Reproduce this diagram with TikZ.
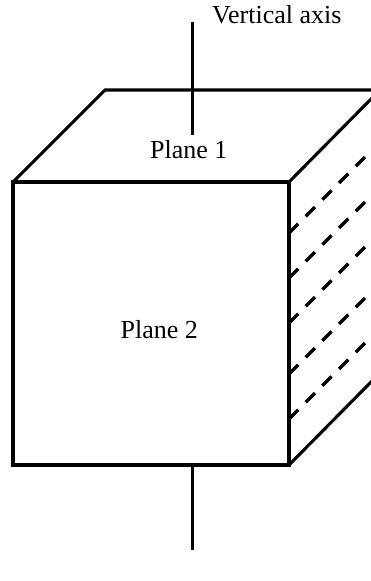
\documentclass[tikz,border=0pt]{standalone}
\usepackage{fontspec}
\setmainfont{Liberation Serif}
\tikzset{
  edge line/.style={line width=3.1pt,line cap=round,line join=miter},
  axis line/.style={line width=2.7pt},
  hidden line/.style={line width=3.2pt,dash pattern=on 13pt off 10.6pt},
  label text/.style={inner sep=0pt,anchor=base west,font=\fontsize{26}{30}\selectfont}
}
\begin{document}
\begin{tikzpicture}[x=1pt,y=-1pt]
\useasboundingbox (0,0) rectangle (371,581);
\coordinate (fa) at (13,182);
\coordinate (fb) at (289,182);
\coordinate (fc) at (289,465);
\coordinate (fd) at (13,465);
\coordinate (ta) at (105,90);
\coordinate (tb) at (371,90);
\coordinate (rt) at (372,98);
\coordinate (rb) at (372,381);
\coordinate (axa) at (192.5,22);
\coordinate (axb) at (192.5,135);
\coordinate (axc) at (192.5,465);
\coordinate (axd) at (192.5,550);
\foreach \ya/\yb in {233/149,278/194,323/239,374/290,419/335}{
  \coordinate (da) at (289,\ya);
  \coordinate (db) at (373,\yb);
  \draw[hidden line] (da) -- (db);
}
\draw[axis line] (axa) -- (axb);
\draw[axis line] (axc) -- (axd);
\draw[edge line] (fa) -- (fb) -- (fc) -- (fd) -- cycle;
\draw[edge line] (fa) -- (ta) -- (tb);
\draw[edge line] (fb) -- (rt);
\draw[edge line] (fc) -- (rb);
\node[label text] (vert) at (212,23) {Vertical axis};
\node[label text] (pone) at (150,158) {Plane 1};
\node[label text] (ptwo) at (120.5,338) {Plane 2};
\end{tikzpicture}
\end{document}
